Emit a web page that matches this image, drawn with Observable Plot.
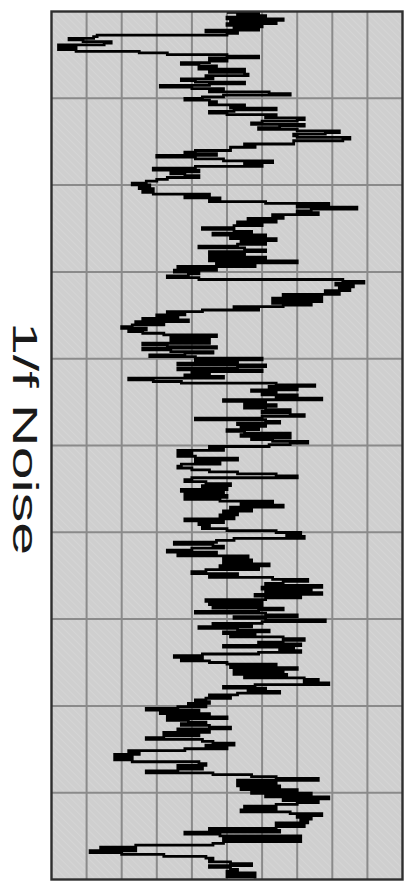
<!DOCTYPE html>
<html>
<head>
<meta charset="utf-8">
<script src="https://cdn.jsdelivr.net/npm/d3@7"></script>
<script src="https://cdn.jsdelivr.net/npm/@observablehq/plot@0.6"></script>
<style>
  html, body { margin: 0; padding: 0; background: #ffffff; }
  #chart svg { display: block; }
</style>
</head>
<body>
<div id="chart"></div>
<script>
// Chart label
const label = "1/f Noise";

// Grid (value axis in grid units, time axis as fraction of the record)
const valueGrid = [1, 2, 3, 4, 5, 6, 7, 8, 9];
const timeGrid = [0.1, 0.2, 0.3, 0.4, 0.5, 0.6, 0.7, 0.8, 0.9];

// 1/f noise values, in grid units, top to bottom, in six consecutive sections
const section1 = [5.0, 5.9, 5.3, 6.1, 5.0, 6.6, 5.1, 6.4, 5.0, 6.0, 5.2, 5.9, 4.4, 5.3, 5.0, 1.3, 1.2, 0.5, 0.9, 1.7, 1.5, 0.2, 0.7, 0.2, 0.7, 2.5, 3.3, 5.0, 5.9, 4.5, 5.0, 4.5, 3.7, 4.2, 4.7, 4.2, 5.5, 4.5, 5.5, 5.6, 4.4, 4.6, 3.7, 4.1, 5.5, 4.5, 3.1, 4.0, 4.9, 4.5, 6.2, 6.8, 4.9, 4.3, 3.8, 4.5, 4.7, 4.5, 5.5, 5.1, 6.4, 5.2, 4.5, 5.0, 6.4, 6.1, 7.2, 7.0, 6.0, 5.7, 7.2, 6.5, 5.9, 7.0, 8.2, 7.8, 6.9, 7.0, 8.5, 8.3, 6.9, 6.9, 5.5, 5.8, 5.1, 5.1, 4.1, 3.8, 4.7];
const section2 = [3.0, 4.1, 4.9, 6.3, 5.5, 6.0, 4.1, 2.9, 4.2, 3.4, 3.8, 4.2, 3.3, 3.0, 2.7, 2.3, 2.8, 2.5, 2.9, 2.6, 2.9, 4.5, 3.8, 4.8, 4.5, 6.1, 7.9, 7.0, 8.7, 7.4, 7.0, 7.6, 6.3, 6.6, 5.6, 6.4, 5.3, 6.0, 5.2, 4.3, 5.2, 5.7, 4.6, 6.1, 5.1, 6.4, 5.4, 6.1, 5.3, 4.2, 5.5, 6.1, 4.5, 5.5, 4.5, 6.1, 4.5, 7.0, 4.7, 5.8, 3.6, 4.7, 3.5, 4.2, 3.9, 3.3, 4.2, 8.3, 8.9, 8.1, 8.6, 8.2, 8.5, 7.8, 8.2, 6.6, 7.7, 6.3];
const section3 = [7.7, 6.3, 7.4, 6.6, 5.2, 5.9, 4.3, 3.3, 3.8, 3.0, 3.6, 2.6, 3.9, 2.4, 3.2, 2.3, 2.0, 2.7, 2.2, 2.6, 3.2, 4.7, 3.4, 4.5, 3.4, 4.5, 2.6, 3.3, 4.7, 2.6, 3.4, 4.6, 3.8, 2.8, 4.1, 6.0, 4.1, 5.3, 3.6, 6.1, 5.3, 3.6, 6.0, 4.0, 4.5, 3.8, 4.9, 2.2, 2.9, 3.7, 6.4, 7.5, 6.2, 7.0, 5.7, 6.4, 6.0, 7.0, 6.4, 7.7, 4.9, 6.1, 5.5, 6.4, 5.5, 6.1, 6.8, 6.0, 6.8, 7.2, 6.0, 4.1, 6.1, 6.5, 5.3, 6.1, 5.4, 5.9, 5.0, 5.5, 6.8, 5.4, 6.8, 5.7, 6.3, 7.3, 6.8];
const section4 = [6.2, 4.5, 4.9, 3.6, 4.0, 3.6, 4.1, 5.3, 4.1, 4.8, 3.7, 3.6, 4.0, 4.5, 5.3, 6.4, 7.0, 4.0, 3.8, 4.4, 5.1, 4.3, 5.0, 3.7, 4.9, 3.8, 5.0, 3.8, 4.8, 6.3, 5.4, 6.6, 5.1, 5.7, 4.9, 5.3, 4.8, 5.2, 3.8, 4.9, 4.2, 4.5, 4.3, 5.0, 6.4, 7.1, 6.7, 7.2, 5.2, 4.7, 3.5, 4.6, 4.9, 4.0, 3.3, 4.7, 3.6, 5.6, 4.9, 5.7, 4.9, 6.2, 4.8, 5.9, 4.4, 4.0, 5.3, 4.5, 6.3, 7.3, 6.6, 6.1, 7.7, 6.0];
const section5 = [7.4, 6.1, 7.7, 5.8, 7.1, 6.1, 4.4, 6.0, 4.5, 6.0, 4.6, 6.6, 5.9, 4.1, 6.1, 7.0, 5.2, 6.1, 7.8, 6.0, 4.6, 5.7, 4.2, 5.3, 6.2, 4.9, 5.8, 5.1, 6.6, 7.2, 6.6, 5.9, 7.1, 4.9, 6.9, 6.5, 7.1, 5.9, 4.3, 3.5, 4.3, 3.7, 4.5, 5.0, 6.4, 5.1, 7.0, 5.2, 6.6, 5.2, 6.7, 5.5, 7.2, 7.6, 7.2, 7.9, 5.8, 4.9, 6.1, 5.6, 6.5, 5.3, 4.5, 5.1, 4.4, 4.1, 4.5, 3.9, 4.4, 3.6, 2.7, 4.2, 3.1, 4.5, 3.3, 5.0, 3.3, 3.9, 4.4, 3.7, 4.5, 5.1, 3.6, 4.5, 3.2];
const section6 = [4.2, 3.2, 2.7, 4.3, 4.6, 5.2, 4.4, 5.0, 3.8, 2.2, 2.5, 1.8, 2.3, 1.8, 2.3, 4.2, 4.4, 3.6, 4.3, 3.6, 2.7, 4.6, 5.7, 6.4, 7.6, 5.3, 6.4, 5.3, 6.5, 5.4, 7.0, 5.7, 7.4, 6.1, 7.9, 6.6, 7.6, 7.0, 6.4, 5.5, 6.4, 5.4, 6.8, 7.7, 7.0, 7.4, 7.1, 7.3, 6.4, 7.2, 6.4, 4.5, 6.5, 3.8, 4.8, 7.1, 4.9, 7.1, 4.9, 4.6, 2.4, 1.4, 2.4, 1.1, 2.0, 3.2, 4.4, 4.6, 4.5, 5.1, 5.7, 4.5, 5.1, 5.3, 5.0, 5.8, 5.0, 5.8];

const sections = [section1, section2, section3, section4, section5, section6];
const points = [];
sections.forEach((vals, s) => {
  vals.forEach((v, i) => {
    points.push({ t: (s + (i + 0.5) / vals.length) / sections.length, v });
  });
});

const chart = Plot.plot({
  width: 409,
  height: 888,
  marginLeft: 51,
  marginRight: 7,
  marginTop: 11,
  marginBottom: 9,
  style: { background: "#ffffff", fontFamily: "'Liberation Sans', Arial, sans-serif" },
  x: { domain: [0, 10], axis: null },
  y: { domain: [0, 1], reverse: true, axis: null },
  marks: [
    Plot.frame({ fill: "url(#hatch)", stroke: "none" }),
    Plot.ruleX(valueGrid, { stroke: "#8a8a8a", strokeWidth: 2 }),
    Plot.ruleY(timeGrid, { stroke: "#8a8a8a", strokeWidth: 2 }),
    Plot.line(points, { x: "v", y: "t", curve: "step-after", stroke: "#000000", strokeWidth: 2.8, strokeLinejoin: "miter", strokeMiterlimit: 4, strokeLinecap: "butt" }),
    Plot.frame({ stroke: "#2e2e2e", strokeWidth: 2.4 }),
    Plot.text([label], {
      frameAnchor: "left",
      dx: -27,
      dy: -7,
      rotate: 90,
      fontSize: 35,
      fill: "#1a1a1a",
      textAnchor: "middle"
    })
  ]
});

// hatch pattern for the plot background
const ns = "http://www.w3.org/2000/svg";
const defs = document.createElementNS(ns, "defs");
defs.innerHTML = `<pattern id="hatch" width="5" height="5" patternUnits="userSpaceOnUse" patternTransform="rotate(-45)">
  <rect width="5" height="5" fill="#cfcfcf"></rect>
  <line x1="0" y1="0" x2="0" y2="5" stroke="#d8d8d8" stroke-width="1.5"></line>
</pattern>`;
chart.insertBefore(defs, chart.firstChild);

// stretch the label along its reading direction as in the reference
const lbl = Array.from(chart.querySelectorAll("text")).find(n => n.textContent === label);
if (lbl) {
  lbl.setAttribute("textLength", 233);
  lbl.setAttribute("lengthAdjust", "spacingAndGlyphs");
}

document.getElementById("chart").appendChild(chart);
</script>
</body>
</html>
